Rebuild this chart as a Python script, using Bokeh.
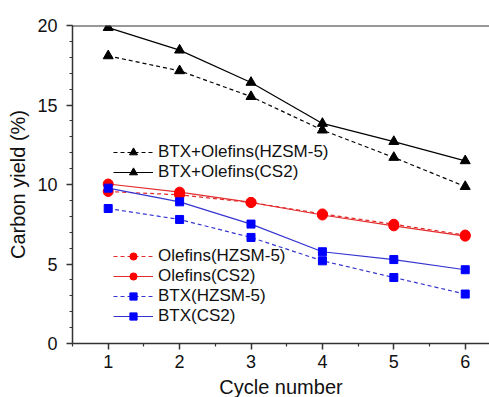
from bokeh.plotting import figure
from bokeh.models import Legend, LegendItem, Span, FixedTicker, Range1d
from bokeh.embed import file_html
from bokeh.resources import INLINE

cycles = [1, 2, 3, 4, 5, 6]
total_hzsm = [18.09, 17.15, 15.53, 13.42, 11.70, 9.87]
total_cs2 = [19.87, 18.45, 16.42, 13.84, 12.70, 11.49]
olefins_hzsm = [9.56, 9.35, 8.87, 8.15, 7.50, 6.82]
olefins_cs2 = [10.03, 9.52, 8.87, 8.08, 7.40, 6.75]
btx_hzsm = [8.49, 7.80, 6.67, 5.20, 4.15, 3.11]
btx_cs2 = [9.77, 8.91, 7.51, 5.77, 5.28, 4.64]

FONT = "Liberation Sans"

p = figure(width=489, height=397, output_backend="svg", toolbar_location=None,
           x_range=Range1d(0.5, 6.34), y_range=Range1d(0, 20),
           min_border_left=72, min_border_right=0, min_border_top=25, min_border_bottom=54)
p.frame_width = 417
p.frame_height = 318
p.xgrid.visible = False
p.ygrid.visible = False
p.outline_line_color = None
p.background_fill_color = "white"

for ax in (p.xaxis[0], p.yaxis[0]):
    ax.axis_line_color = "#333333"
    ax.axis_line_width = 1.5
    ax.major_tick_line_color = "#333333"
    ax.minor_tick_line_color = "#333333"
    ax.major_tick_line_width = 1.5
    ax.minor_tick_line_width = 1.2
    ax.major_tick_in = 0
    ax.minor_tick_in = 0
    ax.major_label_text_font = FONT
    ax.major_label_text_font_size = "18px"
    ax.major_label_text_color = "#111111"
    ax.axis_label_text_font = FONT
    ax.axis_label_text_font_size = "20px"
    ax.axis_label_text_font_style = "normal"
    ax.axis_label_text_color = "#111111"

p.xaxis.ticker = FixedTicker(ticks=cycles, minor_ticks=[0.5, 1.5, 2.5, 3.5, 4.5, 5.5])
p.xaxis.major_tick_out = 6
p.xaxis.minor_tick_out = 3
p.xaxis.major_label_standoff = 5
p.xaxis.axis_label = "Cycle number"
p.xaxis.axis_label_standoff = 5

p.yaxis.ticker = FixedTicker(ticks=[0, 5, 10, 15, 20], minor_ticks=list(range(0, 21)))
p.yaxis.major_tick_out = 6
p.yaxis.minor_tick_out = 3
p.yaxis.major_label_standoff = 9
p.yaxis.axis_label = "Carbon yield (%)"
p.yaxis.axis_label_standoff = 5

p.add_layout(Span(location=20, dimension="width", line_color="#333333", line_width=2))

BLACK = "#000000"
RED_L, RED_M = "#e32b2b", "#ff0000"
BLUE_L, BLUE_M = "#3535d0", "#0000ff"
DASH = "4 3"


def series(y, lc, mc, dash, marker, size):
    r1 = p.line(cycles, y, line_color=lc, line_width=1.2, line_dash=dash)
    r2 = p.scatter(cycles, y, marker=marker, size=size, fill_color=mc, line_color=mc)
    return [r1, r2]


r_th = series(total_hzsm, BLACK, BLACK, DASH, "triangle", 10)
r_tc = series(total_cs2, BLACK, BLACK, "solid", "triangle", 10)
r_oh = series(olefins_hzsm, RED_L, RED_M, DASH, "circle", 10)
r_oc = series(olefins_cs2, RED_L, RED_M, "solid", "circle", 10)
r_bh = series(btx_hzsm, BLUE_L, BLUE_M, DASH, "square", 8)
r_bc = series(btx_cs2, BLUE_L, BLUE_M, "solid", "square", 8)


def make_legend(items, loc, row_h):
    lg = Legend(items=items, location=loc, padding=0, margin=0, spacing=0,
                glyph_width=40, glyph_height=row_h, label_height=row_h,
                label_standoff=5, label_text_font=FONT, label_text_font_size="17px",
                label_text_color="#111111", border_line_color=None,
                background_fill_alpha=0)
    p.add_layout(lg, "center")


make_legend([LegendItem(label="BTX+Olefins(HZSM-5)", renderers=r_th),
             LegendItem(label="BTX+Olefins(CS2)", renderers=r_tc)], (41, 161), 20)
make_legend([LegendItem(label="Olefins(HZSM-5)", renderers=r_oh),
             LegendItem(label="Olefins(CS2)", renderers=r_oc),
             LegendItem(label="BTX(HZSM-5)", renderers=r_bh),
             LegendItem(label="BTX(CS2)", renderers=r_bc)], (41, 17), 18)

open("out.html", "w").write(file_html(p, INLINE))
